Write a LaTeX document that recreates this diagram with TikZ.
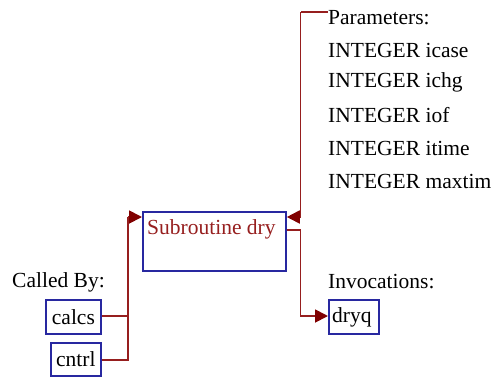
\documentclass[tikz,border=0pt]{standalone}
\usepackage{fontspec}
\setmainfont{Liberation Serif}
\usetikzlibrary{arrows.meta,calc}
\definecolor{boxblue}{RGB}{40,40,160}
\definecolor{linkred}{RGB}{150,30,30}
\definecolor{arrred}{RGB}{128,0,0}
\begin{document}
\begin{tikzpicture}[x=1pt,y=-1pt,
  every node/.style={font=\fontsize{21.5}{24}\selectfont, inner sep=0pt},
  box/.style={draw=boxblue, line width=1.8pt, anchor=north west},
  lbl/.style={anchor=west, text=black},
  link/.style={draw=linkred, line width=1.8pt},
  arr/.style={-{Triangle[length=13pt,width=13pt,color=arrred]}}]
\useasboundingbox (0,0) rectangle (495,376);
% main box
\node[box, minimum width=143pt, minimum height=59pt] (main) at (142,211) {};
\node[anchor=west, text=linkred] (maint) at (147,229) {Subroutine dry};
% called by
\node[lbl] (calledby) at (12,282) {Called By:};
\node[box, minimum width=55pt, minimum height=34pt] (calcs) at (45,299) {};
\node[anchor=center] (calcst) at (calcs.center) {calcs};
\node[box, minimum width=50pt, minimum height=33pt] (cntrl) at (50,342) {};
\node[anchor=center] (cntrlt) at (cntrl.center) {cntrl};
% invocations
\node[lbl] (invoc) at (328,282) {Invocations:};
\node[box, minimum width=50pt, minimum height=34pt] (dryq) at (328,299) {};
\node[anchor=west] (dryqt) at ($(dryq.west)+(4,0)$) {dryq};
% parameters
\node[lbl] (params) at (328,18) {Parameters:};
\node[lbl] (p1) at (328,50) {INTEGER icase};
\node[lbl] (p2) at (328,82) {INTEGER ichg};
\node[lbl] (p3) at (328,115) {INTEGER iof};
\node[lbl] (p4) at (328,148) {INTEGER itime};
\node[lbl] (p5) at (328,181) {INTEGER maxtim};
% coordinates
\coordinate (jl) at (128,217);
\coordinate (inl) at (main.north west |- jl);
\coordinate (ptop) at (300.5,12);
\coordinate (pin) at (main.north east |- 0,217);
\coordinate (outr) at (main.north east |- 0,230);
% connectors
\draw[link] (calcs.east |- 0,316) -| (jl);
\draw[link] (cntrl.east |- 0,360) -| (jl);
\draw[link, arr] (jl) -- (inl);
\draw[link] (params.west |- ptop) -- (ptop);
\draw[link, arr] (ptop) |- (pin);
\draw[link, arr] (outr) -| (300.5,316) -- (dryq.west |- 0,316);
\end{tikzpicture}
\end{document}
